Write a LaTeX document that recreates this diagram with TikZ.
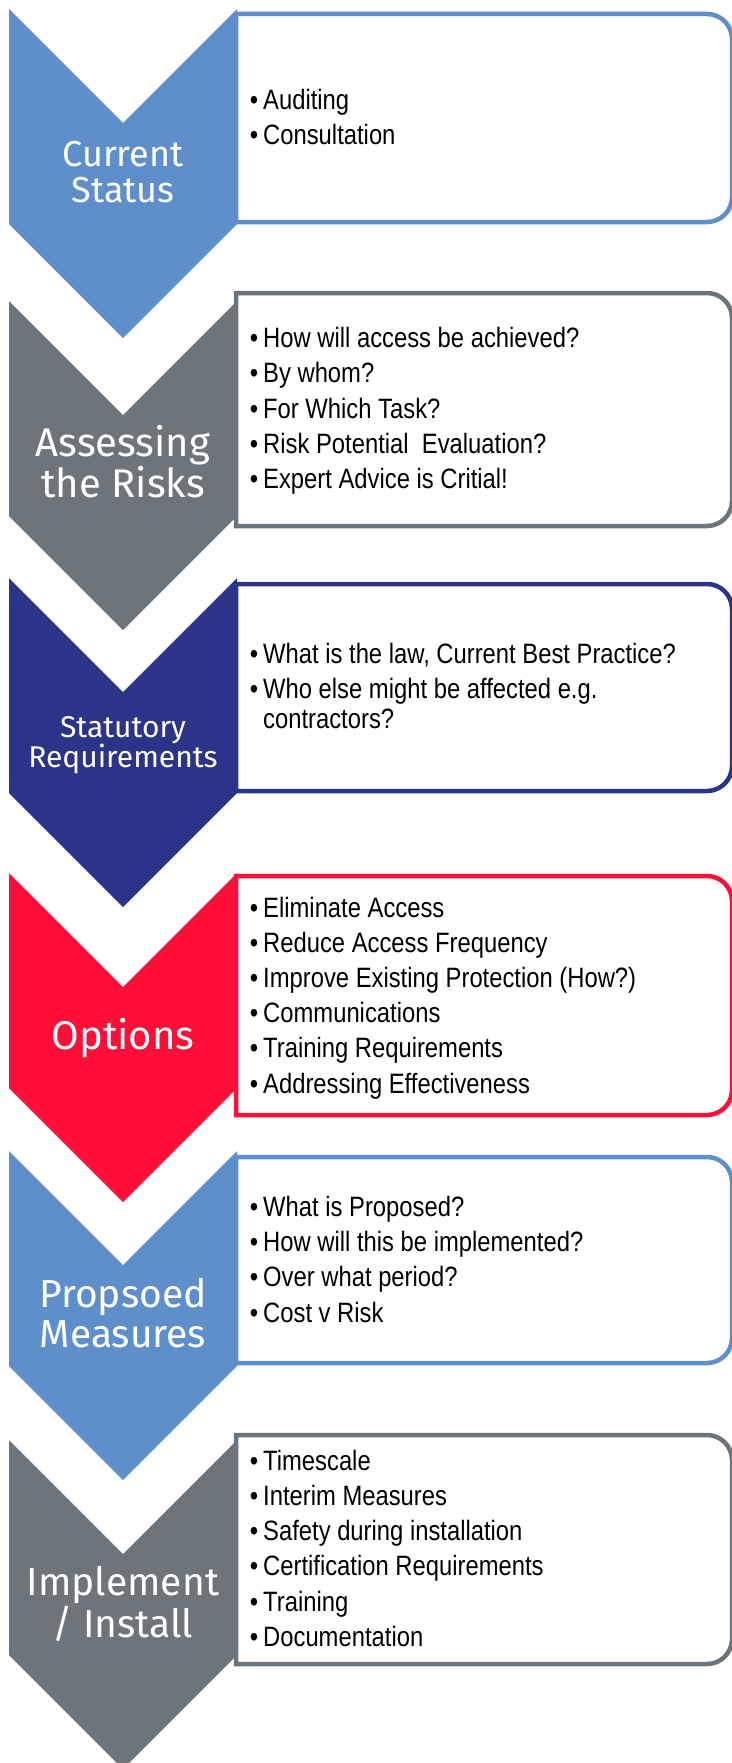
\documentclass[tikz,border=0pt]{standalone}
\usepackage{fontspec}
\setmainfont[FakeStretch=0.85]{Liberation Sans}
\newfontfamily\labelfont{Fira Sans}

\definecolor{lblue}{RGB}{95,143,203}
\definecolor{slate}{RGB}{109,117,123}
\definecolor{navy}{RGB}{44,52,138}
\definecolor{alarm}{RGB}{255,14,55}

\newcommand{\bul}{\llap{\textbullet\hspace{5pt}}}

\begin{document}
\begin{tikzpicture}[%
      x=1pt, y=-1pt,
      box/.style={line width=4.5pt},
      lab/.style={text=white, anchor=base, inner sep=0pt,
        font=\labelfont\fontsize{#1}{#1}\selectfont},
      itm/.style={anchor=base west, inner sep=0pt,
        font=\fontsize{28}{35}\selectfont},
      ]
      \fill [white] (0,0) rectangle (731,1763);
      \useasboundingbox (0,0) rectangle (731,1763);

      % boxes
      \draw [box, lblue] (236,14) [rounded corners=25] -- (732,14) -- (732,222) [sharp corners] -- (236,222) -- cycle;
      \draw [box, slate] (236,293) [rounded corners=25] -- (732,293) -- (732,526) [sharp corners] -- (236,526) -- cycle;
      \draw [box, navy] (236,584) [rounded corners=25] -- (732,584) -- (732,791) [sharp corners] -- (236,791) -- cycle;
      \draw [box, alarm] (236,876) [rounded corners=25] -- (732,876) -- (732,1115) [sharp corners] -- (236,1115) -- cycle;
      \draw [box, lblue] (236,1157) [rounded corners=25] -- (732,1157) -- (732,1363) [sharp corners] -- (236,1363) -- cycle;
      \draw [box, slate] (236,1435) [rounded corners=25] -- (732,1435) -- (732,1664) [sharp corners] -- (236,1664) -- cycle;

      % chevrons
      \fill [lblue] (9,9) -- ++(114,114) -- ++(114,-114) -- ++(0,215) -- ++(-114,114) -- ++(-114,-114) -- cycle;
      \fill [slate] (9,301) -- ++(114,114) -- ++(114,-114) -- ++(0,215) -- ++(-114,114) -- ++(-114,-114) -- cycle;
      \fill [navy] (9,578) -- ++(114,114) -- ++(114,-114) -- ++(0,215) -- ++(-114,114) -- ++(-114,-114) -- cycle;
      \fill [alarm] (9,873) -- ++(114,114) -- ++(114,-114) -- ++(0,215) -- ++(-114,114) -- ++(-114,-114) -- cycle;
      \fill [lblue] (9,1151) -- ++(114,114) -- ++(114,-114) -- ++(0,215) -- ++(-114,114) -- ++(-114,-114) -- cycle;
      \fill [slate] (9,1440) -- ++(114,114) -- ++(114,-114) -- ++(0,215) -- ++(-114,114) -- ++(-114,-114) -- cycle;

      % chevron labels
      \node (cur1) [lab=36] at (123,167) {Current};
      \node (cur2) [lab=36] at (123,202) {Status};
      \node (ass1) [lab=40] at (123,456) {Assessing};
      \node (ass2) [lab=40] at (123,497) {the Risks};
      \node (sta1) [lab=30] at (123,737) {Statutory};
      \node (sta2) [lab=30] at (123,767) {Requirements};
      \node (opt1) [lab=40] at (123,1049) {Options};
      \node (pro1) [lab=39] at (123,1307) {Propsoed};
      \node (pro2) [lab=39] at (123,1347) {Measures};
      \node (imp1) [lab=39] at (123,1595) {Implement};
      \node (imp2) [lab=39] at (123,1637) {/ Install};

      % bullet items
      \node (c1) [itm] at (263,110) {\bul Auditing};
      \node (c2) [itm] at (263,145) {\bul Consultation};

      \node (a1) [itm] at (263,347) {\bul How will access be achieved?};
      \node (a2) [itm] at (263,382) {\bul By whom?};
      \node (a3) [itm] at (263,418) {\bul For Which Task?};
      \node (a4) [itm] at (263,453) {\bul Risk Potential\ \ Evaluation?};
      \node (a5) [itm] at (263,488) {\bul Expert Advice is Critial!};

      \node (s1) [itm] at (263,663) {\bul What is the law, Current Best Practice?};
      \node (s2) [itm] at (263,698) {\bul Who else might be affected e.g.};
      \node (s3) [itm] at (263,728) {contractors?};

      \node (o1) [itm] at (263,917) {\bul Eliminate Access};
      \node (o2) [itm] at (263,952) {\bul Reduce Access Frequency};
      \node (o3) [itm] at (263,987) {\bul Improve Existing Protection (How?)};
      \node (o4) [itm] at (263,1022) {\bul Communications};
      \node (o5) [itm] at (263,1057) {\bul Training Requirements};
      \node (o6) [itm] at (263,1093) {\bul Addressing Effectiveness};

      \node (p1) [itm] at (263,1216) {\bul What is Proposed?};
      \node (p2) [itm] at (263,1251) {\bul How will this be implemented?};
      \node (p3) [itm] at (263,1286) {\bul Over what period?};
      \node (p4) [itm] at (263,1322) {\bul Cost v Risk};

      \node (i1) [itm] at (263,1470) {\bul Timescale};
      \node (i2) [itm] at (263,1505) {\bul Interim Measures};
      \node (i3) [itm] at (263,1540) {\bul Safety during installation};
      \node (i4) [itm] at (263,1575) {\bul Certification Requirements};
      \node (i5) [itm] at (263,1611) {\bul Training};
      \node (i6) [itm] at (263,1646) {\bul Documentation};
\end{tikzpicture}
\end{document}
